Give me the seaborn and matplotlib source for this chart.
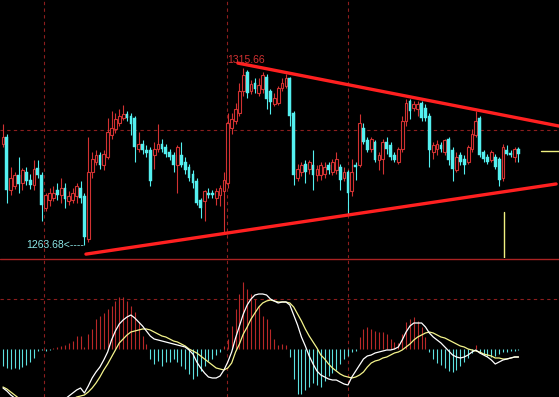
import numpy as np
import pandas as pd
import matplotlib
matplotlib.use("Agg")
import matplotlib.pyplot as plt
import seaborn as sns

# daily candles, left to right
opens = [1293.4, 1295.5, 1279.9, 1281.1, 1284.1, 1282.0, 1285.0, 1282.9, 1281.4, 1286.2,
         1284.1, 1274.5, 1276.9, 1277.5, 1279.9, 1278.4, 1280.5, 1276.6, 1276.9, 1278.1,
         1280.5, 1278.1, 1265.5, 1285.0, 1288.0, 1290.1, 1287.1, 1289.5, 1296.1, 1297.6,
         1299.4, 1300.9, 1302.1, 1301.5, 1300.9, 1291.9, 1293.4, 1291.6, 1291.6, 1290.1,
         1291.9, 1293.4, 1292.5, 1291.0, 1290.1, 1287.1, 1290.1, 1288.0, 1286.5, 1284.4,
         1282.6, 1276.9, 1276.6, 1279.0, 1279.0, 1277.5, 1278.4, 1279.6, 1282.0, 1297.9,
         1300.0, 1302.4, 1309.0, 1314.4, 1309.0, 1311.4, 1308.4, 1309.6, 1312.9, 1309.0,
         1305.1, 1305.4, 1309.9, 1310.5, 1312.6, 1302.4, 1283.5, 1285.0, 1287.4, 1285.9,
         1287.1, 1284.1, 1284.1, 1284.4, 1287.1, 1285.0, 1285.6, 1286.5, 1283.5, 1285.0,
         1279.6, 1287.1, 1287.1, 1297.9, 1294.6, 1291.9, 1294.0, 1288.6, 1288.9, 1294.0,
         1293.1, 1290.1, 1288.0, 1291.9, 1300.0, 1306.0, 1303.9, 1303.6, 1305.4, 1303.9,
         1301.5, 1291.0, 1291.9, 1293.1, 1291.0, 1294.9, 1291.6, 1285.6, 1290.1, 1288.9,
         1288.0, 1291.9, 1296.1, 1300.9, 1291.0, 1289.5, 1288.6, 1289.5, 1288.9, 1283.5,
         1291.6, 1290.7, 1289.5, 1291.9]
highs = [1299.1, 1296.4, 1286.5, 1285.0, 1289.5, 1286.2, 1286.5, 1284.4, 1288.6, 1288.6,
         1285.0, 1279.0, 1280.5, 1281.1, 1282.0, 1283.5, 1282.0, 1279.6, 1280.5, 1282.0,
         1282.6, 1279.0, 1295.5, 1291.0, 1291.6, 1291.0, 1291.6, 1300.9, 1303.0, 1302.4,
         1303.6, 1304.8, 1303.0, 1302.4, 1301.5, 1297.0, 1294.6, 1293.1, 1292.5, 1294.0,
         1299.1, 1294.9, 1293.4, 1291.9, 1291.0, 1293.1, 1294.0, 1289.5, 1287.4, 1285.6,
         1283.5, 1277.5, 1279.9, 1280.5, 1279.9, 1280.5, 1281.4, 1285.0, 1302.4, 1302.4,
         1305.4, 1311.4, 1315.66, 1315.0, 1312.0, 1312.6, 1312.6, 1314.4, 1313.8, 1309.6,
         1308.4, 1310.5, 1312.6, 1313.8, 1312.9, 1303.0, 1287.4, 1288.0, 1288.6, 1288.6,
         1291.6, 1287.1, 1288.0, 1288.0, 1288.0, 1288.9, 1291.0, 1287.4, 1286.5, 1285.6,
         1288.9, 1288.0, 1302.1, 1299.4, 1295.5, 1295.5, 1294.6, 1291.0, 1294.9, 1295.5,
         1294.0, 1291.0, 1292.5, 1301.5, 1306.6, 1306.6, 1306.0, 1306.0, 1306.0, 1305.1,
         1302.4, 1294.0, 1294.6, 1294.0, 1294.9, 1295.5, 1292.5, 1291.0, 1291.0, 1290.1,
         1293.1, 1297.6, 1303.0, 1301.5, 1291.6, 1290.4, 1291.6, 1290.4, 1289.5, 1293.4,
         1293.1, 1291.6, 1292.5, 1292.5]
lows = [1292.5, 1276.0, 1278.4, 1280.2, 1279.0, 1279.9, 1281.4, 1280.2, 1279.9, 1283.5,
        1270.6, 1273.6, 1275.1, 1276.6, 1276.9, 1276.0, 1274.5, 1275.4, 1276.0, 1276.0,
        1276.0, 1263.68, 1264.6, 1283.5, 1287.1, 1285.9, 1285.6, 1288.9, 1294.9, 1296.7,
        1298.5, 1300.3, 1300.0, 1296.1, 1288.0, 1291.0, 1290.4, 1289.5, 1281.1, 1285.9,
        1291.0, 1291.0, 1289.5, 1288.6, 1285.0, 1279.0, 1286.5, 1284.4, 1282.6, 1280.5,
        1275.4, 1271.5, 1270.6, 1277.5, 1277.5, 1275.4, 1275.1, 1267.6, 1280.5, 1296.4,
        1299.1, 1301.5, 1307.5, 1306.9, 1308.1, 1308.4, 1307.5, 1308.4, 1303.6, 1302.1,
        1304.5, 1304.8, 1309.0, 1309.9, 1298.5, 1281.4, 1282.6, 1283.8, 1282.0, 1284.4,
        1279.9, 1282.6, 1282.9, 1283.5, 1284.4, 1284.1, 1284.4, 1279.9, 1282.6, 1272.4,
        1278.1, 1282.9, 1286.5, 1293.4, 1291.0, 1291.0, 1288.0, 1285.6, 1284.4, 1290.4,
        1288.6, 1288.0, 1287.4, 1291.0, 1298.5, 1300.6, 1303.0, 1301.5, 1300.0, 1300.0,
        1286.5, 1288.9, 1290.1, 1291.0, 1290.1, 1287.1, 1282.6, 1285.0, 1287.1, 1284.4,
        1287.4, 1291.0, 1295.5, 1289.5, 1288.0, 1287.4, 1288.0, 1285.9, 1281.1, 1282.6,
        1290.1, 1289.5, 1288.0, 1288.0]
closes = [1295.5, 1279.9, 1283.5, 1284.1, 1281.7, 1285.6, 1282.6, 1281.4, 1285.9, 1284.1,
          1275.4, 1278.4, 1279.0, 1279.0, 1278.4, 1280.5, 1277.2, 1278.1, 1279.0, 1281.1,
          1277.5, 1266.1, 1285.0, 1288.9, 1290.1, 1287.1, 1290.4, 1297.0, 1297.9, 1300.6,
          1301.5, 1302.1, 1300.9, 1299.1, 1292.5, 1293.4, 1291.6, 1290.7, 1282.6, 1291.9,
          1293.4, 1291.9, 1290.4, 1289.5, 1287.1, 1292.5, 1287.1, 1285.6, 1283.5, 1282.0,
          1276.0, 1274.5, 1279.6, 1278.4, 1278.4, 1279.6, 1280.5, 1282.9, 1299.4, 1300.6,
          1303.6, 1309.0, 1313.5, 1308.4, 1311.1, 1309.6, 1310.8, 1313.5, 1306.6, 1305.7,
          1306.9, 1309.9, 1311.4, 1312.6, 1301.5, 1284.1, 1285.9, 1287.1, 1285.0, 1288.0,
          1284.1, 1285.9, 1287.1, 1286.5, 1285.6, 1288.0, 1288.9, 1282.9, 1285.0, 1279.0,
          1285.0, 1286.5, 1299.4, 1294.0, 1291.6, 1294.9, 1288.6, 1290.1, 1294.0, 1291.9,
          1289.5, 1288.6, 1291.9, 1300.0, 1305.4, 1303.0, 1305.1, 1305.1, 1300.9, 1300.9,
          1291.6, 1293.1, 1293.4, 1291.9, 1294.6, 1288.6, 1285.9, 1289.5, 1288.0, 1287.1,
          1292.5, 1296.4, 1300.0, 1290.1, 1288.9, 1288.0, 1291.0, 1286.5, 1282.9, 1292.5,
          1290.4, 1290.1, 1291.9, 1290.4]

# MACD panel
dif = [-3.9, -4.2, -4.6, -4.9, -5.1, -5.3, -5.4, -5.5, -5.5, -5.5,
       -5.6, -5.6, -5.5, -5.4, -5.3, -5.2, -5.0, -4.7, -4.4, -4.1,
       -3.9, -4.4, -3.7, -2.9, -2.3, -1.8, -1.1, -0.3, 0.9, 1.8,
       2.5, 2.9, 3.2, 3.4, 3.1, 2.7, 2.3, 1.8, 1.3, 1.0,
       0.9, 0.8, 0.7, 0.6, 0.5, 0.4, 0.3, 0.2, -0.1, -0.5,
       -1.3, -1.9, -2.4, -2.8, -2.9, -2.9, -2.7, -2.1, -1.3, -0.3,
       1.1, 2.3, 3.5, 4.4, 5.0, 5.4, 5.5, 5.5, 5.4, 5.0,
       4.8, 4.6, 4.7, 4.7, 4.4, 3.4, 2.4, 1.2, 0.3, -0.7,
       -1.5, -2.2, -2.6, -2.8, -3.0, -3.1, -3.1, -3.3, -3.5, -3.6,
       -2.8, -2.2, -1.6, -1.0, -0.7, -0.6, -0.4, -0.3, -0.2, -0.1,
       -0.1, 0.0, 0.2, 0.9, 1.7, 2.3, 2.6, 2.6, 2.6, 2.2,
       1.6, 1.2, 0.9, 0.6, 0.2, -0.2, -0.6, -0.8, -0.9, -0.8,
       -0.6, -0.3, -0.1, -0.4, -0.6, -0.8, -1.1, -1.5, -1.3, -1.1,
       -1.0, -0.9, -0.8, -0.8]
dea = [-3.8, -4.0, -4.3, -4.6, -4.9, -5.1, -5.3, -5.4, -5.5, -5.6,
       -5.6, -5.6, -5.6, -5.6, -5.5, -5.5, -5.4, -5.2, -5.0, -4.8,
       -4.7, -4.6, -4.3, -3.9, -3.4, -2.8, -2.1, -1.5, -0.8, -0.1,
       0.6, 1.0, 1.4, 1.7, 1.8, 1.9, 2.0, 2.0, 1.9, 1.7,
       1.5, 1.3, 1.2, 1.0, 0.8, 0.7, 0.5, 0.3, 0.0, -0.2,
       -0.4, -0.7, -1.0, -1.3, -1.6, -1.9, -2.0, -2.1, -1.9, -1.4,
       -0.3, 0.5, 1.5, 2.2, 3.0, 3.6, 4.2, 4.6, 4.8, 4.9,
       4.8, 4.7, 4.7, 4.7, 4.6, 4.2, 3.5, 2.8, 2.0, 1.3,
       0.7, 0.1, -0.6, -1.0, -1.5, -1.9, -2.2, -2.5, -2.7, -2.8,
       -2.9, -2.8, -2.6, -2.3, -1.8, -1.4, -1.2, -1.1, -0.9, -0.8,
       -0.6, -0.4, -0.3, -0.1, 0.2, 0.5, 0.9, 1.2, 1.4, 1.6,
       1.7, 1.6, 1.4, 1.2, 1.1, 0.9, 0.7, 0.5, 0.3, 0.2,
       0.0, -0.1, -0.2, -0.3, -0.5, -0.6, -0.7, -0.9, -0.9, -1.0,
       -1.0, -0.9, -0.8, -0.8]
macd_hist = [-1.7, -1.9, -2.0, -1.9, -2.0, -1.8, -1.6, -1.3, -0.9, -0.2,
             -0.1, -0.2, -0.1, 0.1, 0.2, 0.3, 0.4, 0.6, 0.8, 1.3,
             1.3, 0.2, 1.5, 2.0, 3.0, 3.3, 3.6, 4.0, 4.3, 4.8,
             5.2, 5.2, 4.8, 4.3, 3.7, 2.7, 1.3, 0.5, -1.0, -1.5,
             -1.2, -1.7, -1.3, -1.3, -1.0, -1.3, -1.7, -2.0, -2.5, -3.0,
             -2.7, -2.2, -1.7, -1.2, -1.0, -0.6, -0.3, 0.3, 1.0, 2.3,
             4.0, 5.5, 6.7, 6.0, 5.5, 5.0, 4.3, 3.3, 3.0, 2.0,
             1.0, 0.4, 0.5, 0.4, -0.8, -3.0, -4.5, -4.5, -4.1, -3.8,
             -3.4, -3.6, -3.8, -3.2, -2.7, -2.4, -2.1, -1.5, -1.0, -0.7,
             -0.3, -0.2, 1.2, 2.0, 2.2, 2.0, 1.8, 1.7, 1.7, 1.5,
             1.0, 0.7, 0.6, 1.5, 2.7, 3.0, 3.2, 2.8, 2.2, 1.2,
             -0.3, -1.0, -1.4, -1.6, -1.9, -2.2, -2.3, -2.1, -1.7, -1.3,
             -0.9, -0.4, 0.4, -0.3, -0.5, -0.7, -0.8, -0.7, -0.5, -0.3,
             -0.3, -0.2, -0.2, -0.1]

# hand-drawn triangle: (candle index, price) end points
upper_line = [(60.6, 1317.1), (143.5, 1298.6)]
lower_line = [(21.4, 1261.0), (142.7, 1281.6)]
month_marks = [10.6, 57.8, 89.0]
price_grid = 1297.5
macd_grid = 5.0

UP = '#d23232'
DOWN = '#54f0f0'
GRID = '#8c1e1e'

sns.set_style('dark')
plt.rcParams['font.family'] = ['Liberation Sans', 'DejaVu Sans']

df = pd.DataFrame({'open': opens, 'high': highs, 'low': lows, 'close': closes,
                   'dif': dif, 'dea': dea, 'hist': macd_hist})
df['idx'] = np.arange(len(df))
df['up'] = df['close'] >= df['open']

fig = plt.figure(figsize=(5.59, 3.97), dpi=100, facecolor='black')
split = (397 - 258) / 397
ax = fig.add_axes([0, split, 1, 1 - split])
ax2 = fig.add_axes([0, 0, 1, split])
xlim = (-0.774, 143.45)
for a in (ax, ax2):
    a.set_facecolor('black')
    a.set_xlim(*xlim)
    a.set_axis_off()
    for m in month_marks:
        a.axvline(m, color=GRID, lw=0.8, ls=(0, (3, 3)), zorder=0)

ax.set_ylim(1259.86, 1335.63)
ax2.set_ylim(-4.8, 9.1)

# candles
colors = np.where(df['up'], UP, DOWN)
ax.vlines(df['idx'], df['low'], df['high'], colors=colors, lw=0.8, zorder=2)
body_lo = np.minimum(df['open'], df['close'])
body_h = np.maximum((df['close'] - df['open']).abs(), 0.25)
up = df[df['up']]
dn = df[~df['up']]
ax.bar(up['idx'], body_h[df['up']], bottom=body_lo[df['up']], width=0.72,
       color='black', edgecolor=UP, linewidth=0.8, zorder=3)
ax.bar(dn['idx'], body_h[~df['up']], bottom=body_lo[~df['up']], width=0.72,
       color=DOWN, edgecolor=DOWN, linewidth=0.3, zorder=3)

ax.axhline(price_grid, color=GRID, lw=0.8, ls=(0, (3, 3)), zorder=0)

for seg in (upper_line, lower_line):
    xs, ys = zip(*seg)
    ax.plot(xs, ys, color='#ff2020', lw=2.4, solid_capstyle='round', zorder=4)

hi = df['high'].idxmax()
lo = df['low'].idxmin()
ax.text(hi - 4.2, df['high'][hi] + 2.4, f"{df['high'][hi]:.2f}", color=UP,
        fontsize=7.5, ha='left', va='center', zorder=5)
ax.text(lo - 0.2, df['low'][lo], f"{df['low'][lo]:.2f}<----", color='#8ce6e6',
        fontsize=7.5, ha='right', va='center', zorder=5)

# current price marks
ax.plot([138.8, 143.5], [1291.3, 1291.3], color='#f0f080', lw=1.0, zorder=4)
ax.plot([129.3, 129.3], [1273.4, 1259.86], color='#f0f080', lw=1.0, zorder=4)

# MACD
ax2.axhline(9.0, color='#aa2222', lw=1.0, zorder=1)  # panel separator
ax2.axhline(macd_grid, color=GRID, lw=0.8, ls=(0, (3, 3)), zorder=0)
hcol = np.where(df['hist'] >= 0, '#b82828', '#5ce0e0')
ax2.vlines(df['idx'], 0, df['hist'], colors=hcol, lw=0.8, zorder=1)
sns.lineplot(data=df, x='idx', y='dea', ax=ax2, color='#f4f48c', lw=0.9,
             estimator=None, sort=False, legend=False, zorder=3)
sns.lineplot(data=df, x='idx', y='dif', ax=ax2, color='white', lw=0.9,
             estimator=None, sort=False, legend=False, zorder=4)
ax2.set_xlim(*xlim)
ax2.set_ylim(-4.8, 9.1)
ax2.set_axis_off()

fig.savefig('out.png', dpi=100, facecolor='black')
